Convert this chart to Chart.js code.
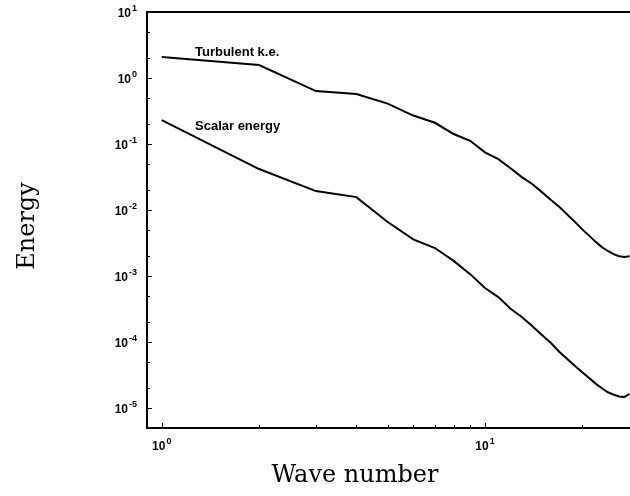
<!DOCTYPE html>
<html>
<head>
<meta charset="utf-8">
<script src="https://cdn.jsdelivr.net/npm/chart.js@4"></script>
<style>
  html, body { margin: 0; padding: 0; background: #fff; }
  #chart-energy { display: block; }
</style>
</head>
<body>
<canvas id="chart-energy" width="630" height="496"></canvas>
<script>
// wave numbers 1..28
var waveNumber = [1, 2, 3, 4, 5, 6, 7, 8, 9, 10, 11, 12, 13, 14, 15, 16, 17, 18, 19, 20, 21, 22, 23, 24, 25, 26, 27, 28];
var turbulentKE = [2.08, 1.57, 0.635, 0.573, 0.41, 0.27, 0.21, 0.142, 0.112, 0.075, 0.059, 0.043, 0.0316, 0.0248, 0.0187, 0.0142, 0.0111, 0.0085, 0.0066, 0.0051, 0.0041, 0.0033, 0.00275, 0.0024, 0.00215, 0.0020, 0.00195, 0.0020];
var scalarEnergy = [0.231, 0.0418, 0.0194, 0.0157, 0.0066, 0.0036, 0.00266, 0.0017, 0.00107, 0.00066, 0.00048, 0.00032, 0.00024, 0.000175, 0.000128, 0.000097, 0.000071, 0.000055, 0.0000435, 0.000035, 0.0000285, 0.0000235, 0.00002, 0.0000174, 0.000016, 0.000015, 0.0000147, 0.0000164];
var xDecades = [0, 1];
var yDecades = [-5, -4, -3, -2, -1, 0, 1];
var curveLabels = ["Turbulent k.e.", "Scalar energy"];

function points(xs, ys) {
    return xs.map(function (x, i) { return { x: x, y: ys[i] }; });
}

// tick marks, power-of-ten labels, curve labels, axis titles
var decor = {
    id: "decor",
    afterDraw: function (chart) {
        var ctx = chart.ctx;
        var xs = chart.scales.x, ys = chart.scales.y;
        var area = chart.chartArea;
        ctx.save();
        ctx.strokeStyle = "#000";
        ctx.fillStyle = "#000";

        // top frame line
        ctx.lineWidth = 2;
        ctx.beginPath();
        ctx.moveTo(area.left - 1, area.top);
        ctx.lineTo(area.right, area.top);
        ctx.stroke();

        // inside tick marks
        ctx.lineWidth = 1;
        for (var e = -6; e <= 1; e++) {
            for (var m = 1; m <= 9; m++) {
                var v = m * Math.pow(10, e);
                if (v < ys.min || v > ys.max) continue;
                if (m != 1 && m != 2 && m != 5) continue;
                var py = Math.round(ys.getPixelForValue(v)) + 0.5;
                ctx.beginPath();
                ctx.moveTo(area.left, py);
                ctx.lineTo(area.left + (m == 1 ? 5 : 3), py);
                ctx.stroke();
            }
        }
        for (var e = -1; e <= 1; e++) {
            for (var m = 1; m <= 9; m++) {
                var v = m * Math.pow(10, e);
                if (v < xs.min || v > xs.max) continue;
                var px = Math.round(xs.getPixelForValue(v)) + 0.5;
                ctx.beginPath();
                ctx.moveTo(px, area.bottom);
                ctx.lineTo(px, area.bottom - (m == 1 ? 5 : 3));
                ctx.stroke();
            }
        }

        // 10^n labels
        var bigFont = "bold 12px 'Liberation Sans', Arial, sans-serif";
        var supFont = "bold 9px 'Liberation Sans', Arial, sans-serif";
        function power(x, y, exp, align) {
            ctx.font = bigFont;
            var w10 = ctx.measureText("10").width;
            ctx.font = supFont;
            var wExp = ctx.measureText(String(exp)).width;
            var start = align == "right" ? x - w10 - wExp - 1 : x - (w10 + wExp + 1) / 2;
            ctx.textAlign = "left";
            ctx.textBaseline = "alphabetic";
            ctx.font = bigFont;
            ctx.fillText("10", start, y + 5);
            ctx.font = supFont;
            ctx.fillText(String(exp), start + w10 + 1, y - 1);
        }
        yDecades.forEach(function (d) {
            power(area.left - 10, ys.getPixelForValue(Math.pow(10, d)), d, "right");
        });
        xDecades.forEach(function (d) {
            power(xs.getPixelForValue(Math.pow(10, d)), area.bottom + 17, d, "center");
        });

        // curve labels
        ctx.font = "bold 13px 'Liberation Sans', Arial, sans-serif";
        ctx.textAlign = "left";
        ctx.textBaseline = "middle";
        ctx.fillText(curveLabels[0], 195, 52);
        ctx.fillText(curveLabels[1], 195, 126);

        // axis titles
        ctx.font = "24px 'DejaVu Serif', serif";
        ctx.textAlign = "center";
        ctx.textBaseline = "alphabetic";
        ctx.fillText("Wave number", 355, 482);
        ctx.translate(34, 226);
        ctx.rotate(-Math.PI / 2);
        ctx.fillText("Energy", 0, 0);
        ctx.restore();
    }
};

new Chart("chart-energy", {
    type: "line",
    data: {
        datasets: [{
            label: curveLabels[0],
            data: points(waveNumber, turbulentKE),
            borderColor: "#000",
            borderWidth: 2,
            pointRadius: 0,
            tension: 0
        },
        {
            label: curveLabels[1],
            data: points(waveNumber, scalarEnergy),
            borderColor: "#000",
            borderWidth: 2,
            pointRadius: 0,
            tension: 0
        }]
    },
    options: {
        responsive: false,
        devicePixelRatio: 1,
        animation: false,
        clip: false,
        layout: {
            padding: { left: 147, top: 12, right: 0, bottom: 68 }
        },
        plugins: {
            legend: { display: false },
            tooltip: { enabled: false }
        },
        scales: {
            x: {
                type: "logarithmic",
                min: 0.9,
                max: 28.1,
                ticks: { display: false },
                grid: { drawOnChartArea: false, drawTicks: false },
                border: { display: true, color: "#000", width: 2 }
            },
            y: {
                type: "logarithmic",
                min: 5e-6,
                max: 10,
                ticks: { display: false },
                grid: { drawOnChartArea: false, drawTicks: false },
                border: { display: true, color: "#000", width: 2 }
            }
        }
    },
    plugins: [decor]
});
</script>
</body>
</html>
